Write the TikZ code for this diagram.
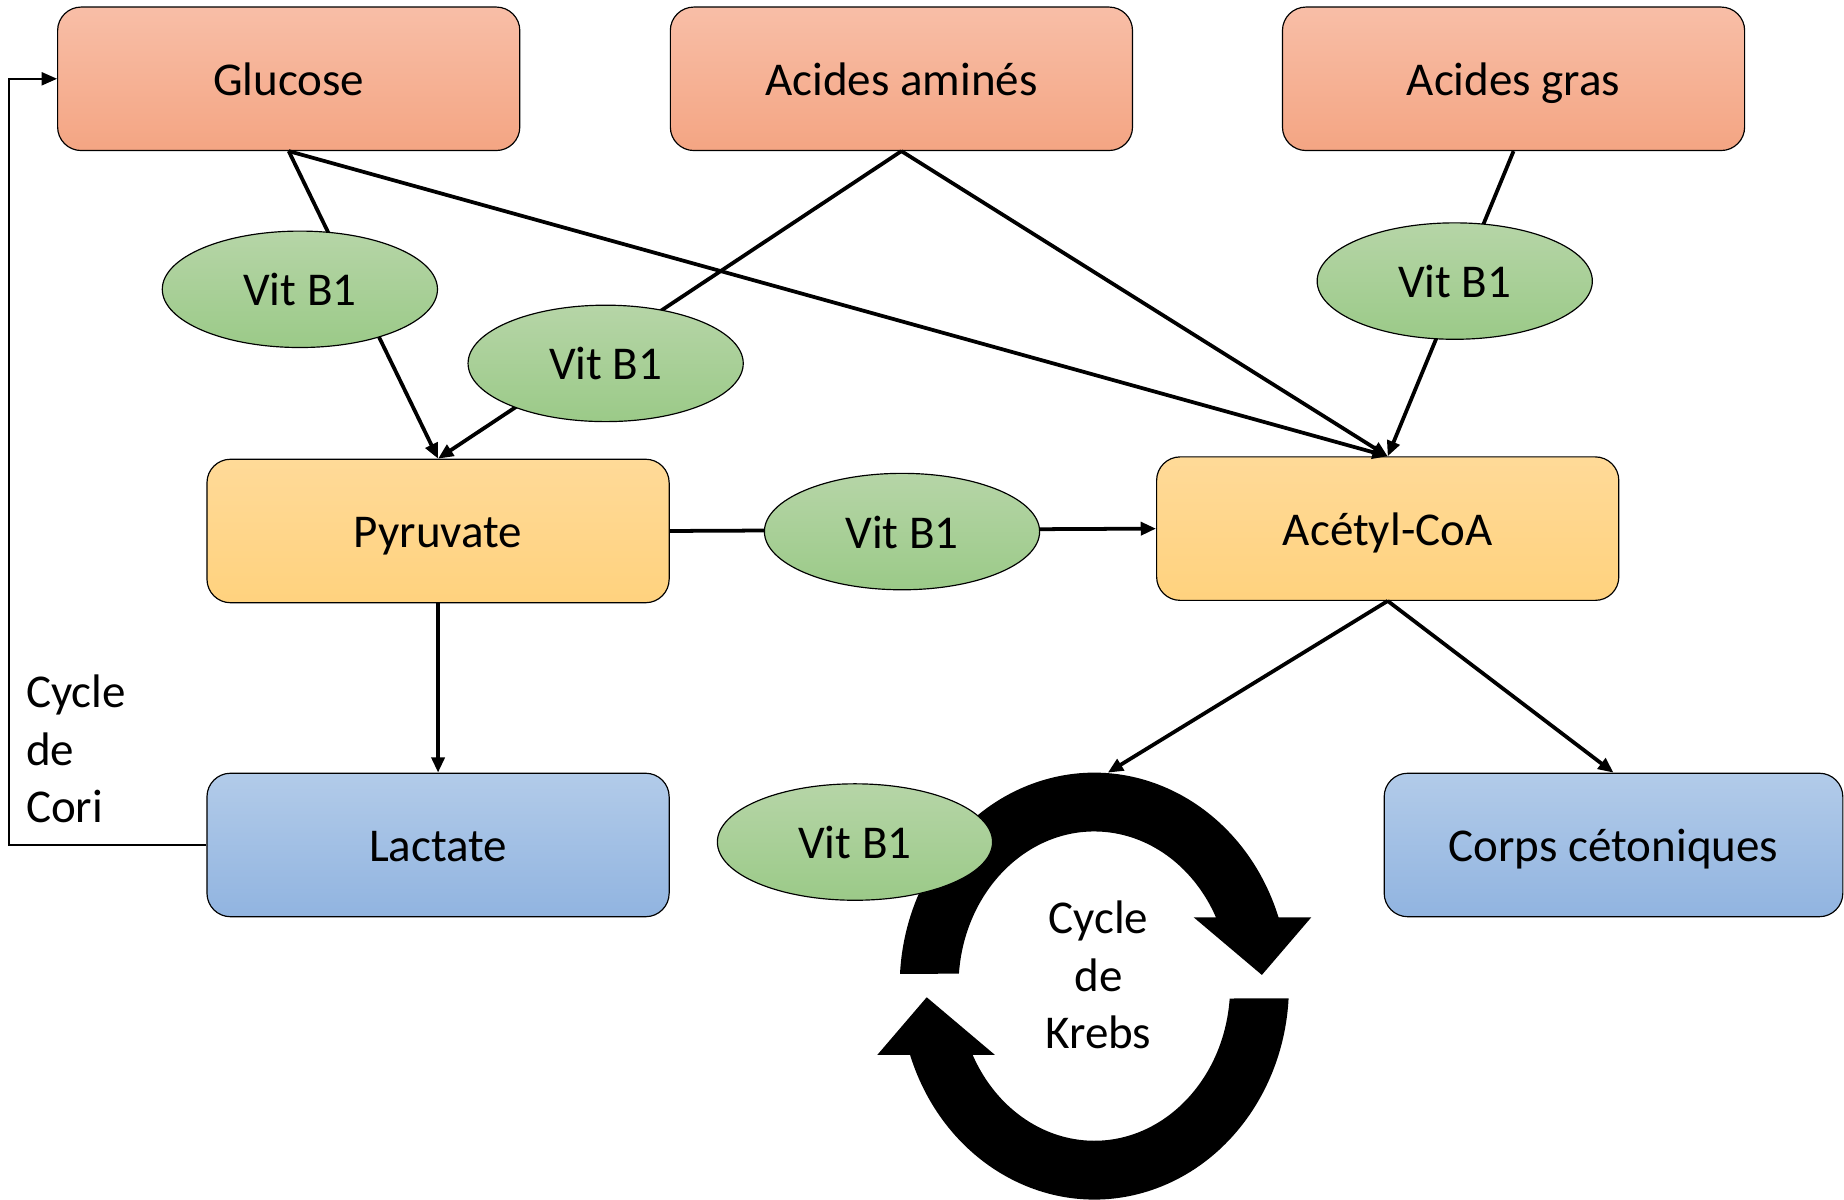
\documentclass[tikz,border=0pt]{standalone}
\usepackage{fontspec}
\setmainfont{Carlito}
\usetikzlibrary{arrows.meta,shapes.geometric}
\definecolor{orT}{HTML}{F8BEA7}
\definecolor{orB}{HTML}{F4A583}
\definecolor{yeT}{HTML}{FFDA98}
\definecolor{yeB}{HTML}{FFD27E}
\definecolor{blT}{HTML}{B2CBE9}
\definecolor{blB}{HTML}{91B4E0}
\definecolor{grT}{HTML}{B6D5A7}
\definecolor{grB}{HTML}{9BCA88}
\tikzset{
  box/.style={draw=black, line width=1pt, rounded corners=20pt, minimum width=393pt,
    minimum height=122pt, inner sep=0pt, text height=34pt, text depth=6pt,
    font=\fontsize{40}{48}\selectfont},
  orbox/.style={box, top color=orT, bottom color=orB},
  yebox/.style={box, top color=yeT, bottom color=yeB},
  blbox/.style={box, top color=blT, bottom color=blB},
  vit/.style={ellipse, draw=black, line width=1pt, minimum width=234pt, minimum height=99pt,
    inner sep=0pt, text height=34pt, text depth=6pt,
    top color=grT, bottom color=grB, font=\fontsize{40}{48}\selectfont},
  conn/.style={line width=3.2pt},
  arr/.style={conn, -{Triangle[length=13pt,width=11pt]}},
  cori/.style={line width=1.8pt, -{Triangle[length=13pt,width=11pt]}},
  lbl/.style={font=\fontsize{40}{49}\selectfont, inner sep=0pt}
}
\begin{document}
\begin{tikzpicture}[x=1pt,y=-1pt]
\useasboundingbox (0,0) rectangle (1568,1020);
% boxes
\node[orbox] (glucose) at (245.5,67) {Glucose};
\node[orbox] (amines) at (766.5,67) {Acides aminés};
\node[orbox] (gras) at (1287,67) {Acides gras};
\node[yebox] (pyruvate) at (372.5,451.5) {Pyruvate};
\node[yebox] (acetyl) at (1180,449.5) {Acétyl-CoA};
\node[blbox] (lactate) at (372.5,718.5) {Lactate};
\node[blbox, minimum width=390pt] (corps) at (1372,718.5) {Corps cétoniques};
% Krebs ring
\coordinate (krebstop) at (942,657);
\begin{scope}[shift={(930.5,838.5)}, yscale=-1]
  \foreach \r in {0,180}{
    \fill[black, rotate=\r] (18.8:165.5 and 181.5)
      arc[start angle=18.8, end angle=176.7, x radius=165.5, y radius=181.5]
      -- (175.4:115.5 and 131.5)
      arc[start angle=175.4, end angle=26.4, x radius=115.5, y radius=131.5]
      -- (84.5,58.5) -- (142.5,9.5) -- (184.5,58.5) -- cycle;
  }
\end{scope}
\node[lbl, align=center] (krebs) at (934,829) {Cycle\\de\\Krebs};
% connectors
\draw[arr] (glucose.south) -- (pyruvate.north);
\draw[arr] (amines.south) -- (pyruvate.north);
\draw[arr] (glucose.south) -- (acetyl.north);
\draw[arr] (amines.south) -- (acetyl.north);
\draw[arr] (gras.south) -- (acetyl.north);
\draw[arr] (pyruvate.east) -- (acetyl.west);
\draw[arr] (pyruvate.south) -- (lactate.north);
\draw[arr] (acetyl.south) -- (krebstop);
\draw[arr] (acetyl.south) -- (corps.north);
\draw[cori] (lactate.west) -- ++(-168,0) |- (glucose.west);
\node[lbl, align=left, anchor=west] (coritext) at (22,637) {Cycle\\de\\Cori};
% vitamin ellipses
\node[vit] (v1) at (255,246) {Vit B1};
\node[vit] (v2) at (515,309) {Vit B1};
\node[vit] (v3) at (1237,239) {Vit B1};
\node[vit] (v4) at (767,452) {Vit B1};
\node[vit] (v5) at (727,716) {Vit B1};
\end{tikzpicture}
\end{document}
